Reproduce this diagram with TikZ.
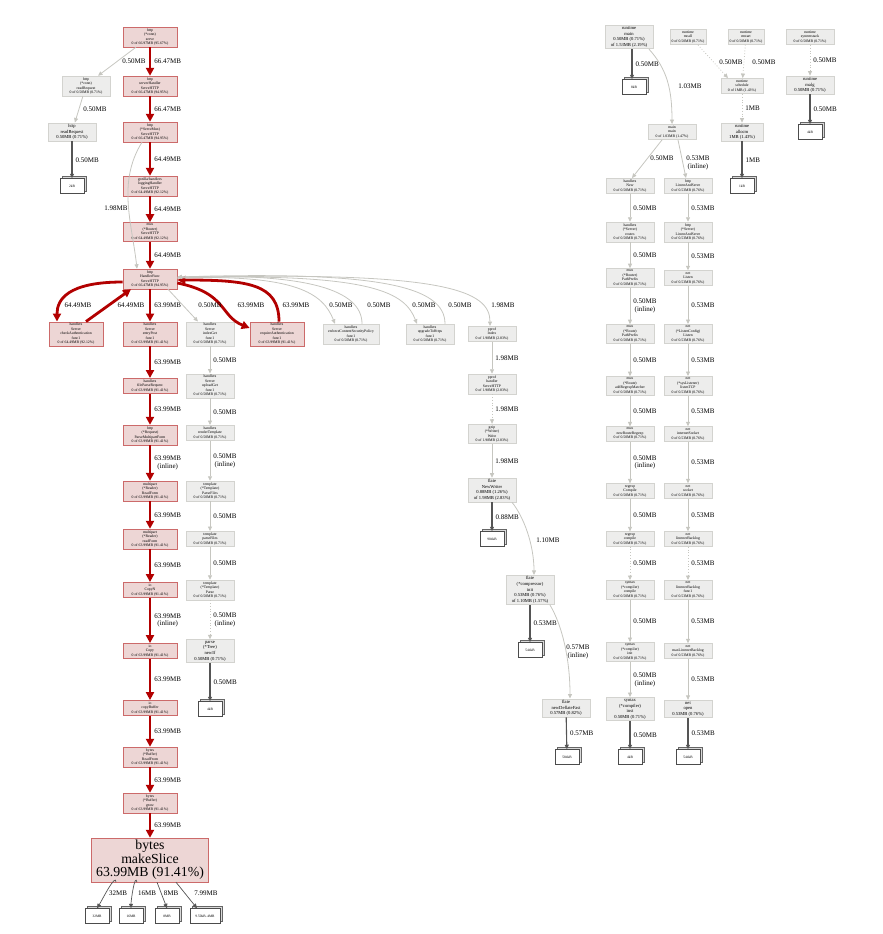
\documentclass[tikz,border=0pt]{standalone}
\usepackage{fontspec}
\setmainfont{Liberation Serif}
\usetikzlibrary{arrows.meta, positioning, shadows}
\definecolor{hot-fill}{HTML}{EDD6D5}
\definecolor{hot-border}{HTML}{CC6A6A}
\definecolor{hot-line}{HTML}{B20000}
\definecolor{cold-fill}{HTML}{EDEDEC}
\definecolor{cold-border}{HTML}{D3D3CF}
\definecolor{cold-line}{HTML}{C6C6C0}
\definecolor{leaf-line}{HTML}{555555}
\tikzset{
  fn/.style={
    rectangle, align=center, inner sep=1.4pt, line width=0.7pt,
    font=\fontsize{3.8}{4.5}\selectfont
  },
  hot/.style={fn, fill=hot-fill, draw=hot-border, minimum width=54pt},
  cold/.style={fn, fill=cold-fill, draw=cold-border, minimum width=48pt},
  hasflat/.style={font=\fontsize{4.6}{5.6}\selectfont},
  leafbox/.style={
    draw=black!70, fill=white, line width=0.5pt, minimum width=24pt,
    minimum height=15pt, inner sep=1pt, font=\fontsize{3.5}{4}\selectfont,
    general shadow={shadow xshift=2.4pt, shadow yshift=2.4pt,
                    fill=black!15, draw=black!60, line width=0.5pt}
  },
  lbl/.style={font=\fontsize{7}{7.8}\selectfont, align=center, inner sep=1pt},
  hot-edge/.style={-{Triangle[length=8pt, width=8pt]}, line width=2.8pt, draw=hot-line},
  cold-edge/.style={-{Triangle[length=4.5pt, width=4pt]}, line width=0.8pt, draw=cold-line},
  leaf-edge/.style={-{Triangle[length=4.5pt, width=4pt]}, line width=1.1pt, draw=leaf-line}
}
\begin{document}
\begin{tikzpicture}[x=1pt, y=-1pt]
  \useasboundingbox (0,0) rectangle (883,934);

  % ---- Request path (hot) --------------------------------------------------
  \node[hot] (serve)      at (150, 37) {http\\(*conn)\\serve\\0 of 66.97MB (95.67\%)};
  \node[hot] (srvhandler) at (150, 86) {http\\serverHandler\\ServeHTTP\\0 of 66.47MB (94.95\%)};
  \node[hot] (servemux)   at (150,132) {http\\(*ServeMux)\\ServeHTTP\\0 of 66.47MB (94.95\%)};
  \node[hot] (logging)    at (150,186) {gorilla/handlers\\loggingHandler\\ServeHTTP\\0 of 64.49MB (92.12\%)};
  \node[hot] (router)     at (150,232) {mux\\(*Router)\\ServeHTTP\\0 of 64.49MB (92.12\%)};
  \node[hot] (hfunc)      at (150,279) {http\\HandlerFunc\\ServeHTTP\\0 of 66.47MB (94.95\%)};

  \node[hot]  (checkauth)   at ( 76,334) {handlers\\Server\\checkAuthentication\\func1\\0 of 64.49MB (92.12\%)};
  \node[hot]  (entrypost)   at (150,334) {handlers\\Server\\entryPost\\func1\\0 of 63.99MB (91.41\%)};
  \node[cold] (indexget)    at (210,334) {handlers\\Server\\indexGet\\func1\\0 of 0.50MB (0.71\%)};
  \node[hot]  (requireauth) at (277,334) {handlers\\Server\\requireAuthentication\\func1\\0 of 63.99MB (91.41\%)};
  \node[cold, minimum width=56pt] (enforcecsp) at (351,334) {handlers\\enforceContentSecurityPolicy\\func1\\0 of 0.50MB (0.71\%)};
  \node[cold] (upgrade)     at (430,334) {handlers\\upgradeToHttps\\func1\\0 of 0.50MB (0.71\%)};

  \node[hot] (fpost)         at (150,386) {handlers\\fileParseRequest\\0 of 63.99MB (91.41\%)};
  \node[hot] (multipartform) at (150,435) {http\\(*Request)\\ParseMultipartForm\\0 of 63.99MB (91.41\%)};
  \node[hot] (readform)      at (150,491) {multipart\\(*Reader)\\ReadForm\\0 of 63.99MB (91.41\%)};
  \node[hot] (readformlow)   at (150,539) {multipart\\(*Reader)\\readForm\\0 of 63.99MB (91.41\%)};
  \node[hot] (copyn)         at (150,590) {io\\CopyN\\0 of 63.99MB (91.41\%)};
  \node[hot] (iocopy)        at (150,651) {io\\Copy\\0 of 63.99MB (91.41\%)};
  \node[hot] (copybuf)       at (150,708) {io\\copyBuffer\\0 of 63.99MB (91.41\%)};
  \node[hot] (bufread)       at (150,757) {bytes\\(*Buffer)\\ReadFrom\\0 of 63.99MB (91.41\%)};
  \node[hot] (bufgrow)       at (150,803) {bytes\\(*Buffer)\\grow\\0 of 63.99MB (91.41\%)};
  \node[hot, minimum width=117pt, minimum height=43pt, inner sep=2pt,
        font=\fontsize{13.8}{13.6}\selectfont] (makeslice) at (150,860)
        {bytes\\makeSlice\\63.99MB (91.41\%)};

  \node[leafbox] (leaf32)   at ( 97,916) {32MB};
  \node[leafbox] (leaf16)   at (131,916) {16MB};
  \node[leafbox] (leaf8)    at (167,916) {8MB};
  \node[leafbox, minimum width=30pt] (leafrest) at (205,916) {9.50kB..4MB};

  % ---- Template rendering (cold) -------------------------------------------
  \node[cold] (uploadget)     at (210,386) {handlers\\Server\\uploadGet\\func1\\0 of 0.50MB (0.71\%)};
  \node[cold] (render)        at (210,433) {handlers\\renderTemplate\\0 of 0.50MB (0.71\%)};
  \node[cold] (parsefiles)    at (210,491) {template\\(*Template)\\ParseFiles\\0 of 0.50MB (0.71\%)};
  \node[cold] (parsefileslow) at (210,539) {template\\parseFiles\\0 of 0.50MB (0.71\%)};
  \node[cold] (tmplparse)     at (210,590) {template\\(*Template)\\Parse\\0 of 0.50MB (0.71\%)};
  \node[cold, hasflat] (newif) at (210,651) {parse\\(*Tree)\\newIf\\0.50MB (0.71\%)};
  \node[leafbox] (leafif)     at (210,709) {4kB};

  % ---- Connection reading ---------------------------------------------------
  \node[cold] (connread) at (86,86)  {http\\(*conn)\\readRequest\\0 of 0.50MB (0.71\%)};
  \node[cold, hasflat] (httpread) at (72,132) {http\\readRequest\\0.50MB (0.71\%)};
  \node[leafbox] (leafread) at (72,186) {2kB};

  % ---- pprof / flate --------------------------------------------------------
  \node[cold] (pindex)      at (492,334) {pprof\\Index\\0 of 1.98MB (2.83\%)};
  \node[cold] (phandler)    at (492,384) {pprof\\handler\\ServeHTTP\\0 of 1.98MB (2.83\%)};
  \node[cold] (gzipwrite)   at (492,434) {gzip\\(*Writer)\\Write\\0 of 1.98MB (2.83\%)};
  \node[cold, hasflat] (newwriter) at (492,490) {flate\\NewWriter\\0.88MB (1.26\%)\\of 1.98MB (2.83\%)};
  \node[leafbox] (leafnw)   at (492,539) {904kB};
  \node[cold, hasflat] (finit) at (530,590) {flate\\(*compressor)\\init\\0.53MB (0.76\%)\\of 1.10MB (1.57\%)};
  \node[leafbox] (leafinit) at (530,650) {544kB};
  \node[cold, hasflat] (deflatefast) at (566,708) {flate\\newDeflateFast\\0.57MB (0.82\%)};
  \node[leafbox] (leafdf)   at (567,757) {584kB};

  % ---- Runtime --------------------------------------------------------------
  \node[cold, hasflat] (rtmain) at (629,37) {runtime\\main\\0.50MB (0.71\%)\\of 1.53MB (2.19\%)};
  \node[leafbox] (leafmain)     at (634,87) {8kB};
  \node[cold, minimum width=36pt] (mcall)  at (688,37) {runtime\\mcall\\0 of 0.50MB (0.71\%)};
  \node[cold, minimum width=36pt] (mstart) at (746,37) {runtime\\mstart\\0 of 0.50MB (0.71\%)};
  \node[cold] (systemstack) at (810,37) {runtime\\systemstack\\0 of 0.50MB (0.71\%)};
  \node[cold, minimum width=42pt] (schedule) at (742,86) {runtime\\schedule\\0 of 1MB (1.43\%)};
  \node[cold, hasflat, minimum width=42pt] (allocm) at (742,132) {runtime\\allocm\\1MB (1.43\%)};
  \node[leafbox] (leafallocm)   at (742,186) {1kB};
  \node[cold, hasflat] (malg)   at (810,85) {runtime\\malg\\0.50MB (0.71\%)};
  \node[leafbox] (leafmalg)     at (810,132) {4kB};
  \node[cold] (mainmain)        at (672,132) {main\\main\\0 of 1.03MB (1.47\%)};

  % ---- Route setup ----------------------------------------------------------
  \node[cold] (hnew)            at (630,186) {handlers\\New\\0 of 0.50MB (0.71\%)};
  \node[cold] (routes)          at (630,232) {handlers\\(*Server)\\routes\\0 of 0.50MB (0.71\%)};
  \node[cold] (rpathprefix)     at (630,278) {mux\\(*Router)\\PathPrefix\\0 of 0.50MB (0.71\%)};
  \node[cold] (routepathprefix) at (630,334) {mux\\(*Route)\\PathPrefix\\0 of 0.50MB (0.71\%)};
  \node[cold] (addregexp)       at (630,386) {mux\\(*Route)\\addRegexpMatcher\\0 of 0.50MB (0.71\%)};
  \node[cold] (newregexp)       at (630,434) {mux\\newRouteRegexp\\0 of 0.50MB (0.71\%)};
  \node[cold] (recompile)       at (630,491) {regexp\\Compile\\0 of 0.50MB (0.71\%)};
  \node[cold] (recompilelow)    at (630,539) {regexp\\compile\\0 of 0.50MB (0.71\%)};
  \node[cold] (syncompile)      at (630,590) {syntax\\(*compiler)\\compile\\0 of 0.50MB (0.71\%)};
  \node[cold] (syninit)         at (630,652) {syntax\\(*compiler)\\init\\0 of 0.50MB (0.71\%)};
  \node[cold, hasflat] (syninst) at (630,709) {syntax\\(*compiler)\\inst\\0.50MB (0.71\%)};
  \node[leafbox] (leafinst)     at (630,757) {4kB};

  % ---- Listener setup -------------------------------------------------------
  \node[cold] (listen)     at (688,186) {http\\ListenAndServe\\0 of 0.53MB (0.76\%)};
  \node[cold] (srvlisten)  at (688,232) {http\\(*Server)\\ListenAndServe\\0 of 0.53MB (0.76\%)};
  \node[cold] (netlisten)  at (688,278) {net\\Listen\\0 of 0.53MB (0.76\%)};
  \node[cold] (lclisten)   at (688,334) {net\\(*ListenConfig)\\Listen\\0 of 0.53MB (0.76\%)};
  \node[cold] (listentcp)  at (688,386) {net\\(*sysListener)\\listenTCP\\0 of 0.53MB (0.76\%)};
  \node[cold] (inetsock)   at (688,434) {net\\internetSocket\\0 of 0.53MB (0.76\%)};
  \node[cold] (socket)     at (688,491) {net\\socket\\0 of 0.53MB (0.76\%)};
  \node[cold] (backlog)    at (688,539) {net\\listenerBacklog\\0 of 0.53MB (0.76\%)};
  \node[cold] (backlogf)   at (688,590) {net\\listenerBacklog\\func1\\0 of 0.53MB (0.76\%)};
  \node[cold] (maxbacklog) at (688,651) {net\\maxListenerBacklog\\0 of 0.53MB (0.76\%)};
  \node[cold, hasflat] (netopen) at (688,709) {net\\open\\0.53MB (0.76\%)};
  \node[leafbox] (leafopen) at (688,757) {544kB};

  % ---- Hot edges ------------------------------------------------------------
  \draw[hot-edge] (serve) -- (srvhandler) node[lbl, midway, right=2pt] {66.47MB};
  \draw[hot-edge] (srvhandler) -- (servemux) node[lbl, midway, right=2pt] {66.47MB};
  \draw[hot-edge] (servemux) -- (logging) node[lbl, midway, right=2pt] {64.49MB};
  \draw[hot-edge] (logging) -- (router) node[lbl, midway, right=2pt] {64.49MB};
  \draw[hot-edge] (router) -- (hfunc) node[lbl, midway, right=2pt] {64.49MB};
  \draw[hot-edge] ([yshift=-3pt]hfunc.west) .. controls +(-55,0) and +(0,-22) .. ([xshift=-19pt]checkauth.north)
        node[lbl, at={(78,305)}] {64.49MB};
  \draw[hot-edge] ([xshift=10pt]checkauth.north) -- ([xshift=-19pt]hfunc.south)
        node[lbl, at={(131,305)}] {64.49MB};
  \draw[hot-edge] (hfunc) -- (entrypost) node[lbl, midway, right=2pt] {63.99MB};
  \draw[hot-edge] ([yshift=-4pt]hfunc.east) .. controls +(50,10) and +(-30,-12) .. ([yshift=6pt]requireauth.west)
        node[lbl, at={(251,305)}] {63.99MB};
  \draw[hot-edge] ([xshift=2pt]requireauth.north) .. controls +(0,-38) and +(70,0) .. ([yshift=-1pt]hfunc.east)
        node[lbl, at={(296,305)}] {63.99MB};
  \draw[hot-edge] (entrypost) -- (fpost) node[lbl, midway, right=2pt] {63.99MB};
  \draw[hot-edge] (fpost) -- (multipartform) node[lbl, midway, right=2pt] {63.99MB};
  \draw[hot-edge] (multipartform) -- (readform) node[lbl, midway, right=2pt] {63.99MB\\(inline)};
  \draw[hot-edge] (readform) -- (readformlow) node[lbl, midway, right=2pt] {63.99MB};
  \draw[hot-edge] (readformlow) -- (copyn) node[lbl, midway, right=2pt] {63.99MB};
  \draw[hot-edge] (copyn) -- (iocopy) node[lbl, midway, right=2pt] {63.99MB\\(inline)};
  \draw[hot-edge] (iocopy) -- (copybuf) node[lbl, midway, right=2pt] {63.99MB};
  \draw[hot-edge] (copybuf) -- (bufread) node[lbl, midway, right=2pt] {63.99MB};
  \draw[hot-edge] (bufread) -- (bufgrow) node[lbl, midway, right=2pt] {63.99MB};
  \draw[hot-edge] (bufgrow) -- (makeslice) node[lbl, midway, right=2pt] {63.99MB};

  % ---- makeSlice sizes ------------------------------------------------------
  \draw[leaf-edge, line width=0.7pt] ([xshift=-34pt]makeslice.south) .. controls +(0,-10) and +(5,-8) .. (leaf32.north)
        node[lbl, at={(118,893)}] {32MB};
  \draw[leaf-edge, line width=0.7pt] ([xshift=-13pt]makeslice.south) .. controls +(-2,-10) and +(0,-8) .. (leaf16.north)
        node[lbl, at={(147,893)}] {16MB};
  \draw[leaf-edge, line width=0.7pt] ([xshift=7pt]makeslice.south) -- (leaf8.north)
        node[lbl, at={(171,893)}] {8MB};
  \draw[leaf-edge, line width=0.7pt] ([xshift=26pt]makeslice.south) -- ([xshift=-8pt]leafrest.north)
        node[lbl, at={(206,893)}] {7.99MB};

  % ---- Cold edges around the handler ----------------------------------------
  \draw[cold-edge] ([xshift=-14pt]serve.south) -- ([xshift=12pt]connread.north)
        node[lbl, at={(134,61)}] {0.50MB};
  \draw[cold-edge] (connread) -- (httpread) node[lbl, midway, right=3pt] {0.50MB};
  \draw[leaf-edge] (httpread) -- (leafread) node[lbl, midway, right=2pt] {0.50MB};
  \draw[cold-edge] ([xshift=-8pt]servemux.south) .. controls +(-25,40) and +(-5,-45) .. ([xshift=-13pt]hfunc.north)
        node[lbl, at={(116,208)}] {1.98MB};
  \draw[cold-edge] ([xshift=18pt]hfunc.south) -- ([xshift=-12pt]indexget.north)
        node[lbl, at={(210,305)}] {0.50MB};
  \draw[cold-edge] ([yshift=1pt]hfunc.east) .. controls +(120,-4) and +(-12,-30) .. ([xshift=-16pt]enforcecsp.north)
        node[lbl, at={(341,305)}] {0.50MB};
  \draw[cold-edge] ([xshift=11pt]enforcecsp.north) .. controls +(0,-34) and +(130,-4) .. ([yshift=2pt]hfunc.east)
        node[lbl, at={(379,305)}] {0.50MB};
  \draw[cold-edge] ([yshift=1pt]hfunc.east) .. controls +(200,-6) and +(-12,-30) .. ([xshift=-13pt]upgrade.north)
        node[lbl, at={(424,305)}] {0.50MB};
  \draw[cold-edge] ([xshift=15pt]upgrade.north) .. controls +(0,-38) and +(200,-6) .. ([yshift=2pt]hfunc.east)
        node[lbl, at={(460,305)}] {0.50MB};
  \draw[cold-edge] ([yshift=1pt]hfunc.east) .. controls +(270,-8) and +(0,-35) .. ([xshift=-2pt]pindex.north)
        node[lbl, at={(503,305)}] {1.98MB};

  % ---- Template chain -------------------------------------------------------
  \draw[cold-edge] (indexget) -- (uploadget) node[lbl, midway, right=2pt] {0.50MB};
  \draw[cold-edge] (uploadget) -- (render) node[lbl, midway, right=2pt] {0.50MB};
  \draw[cold-edge] (render) -- (parsefiles) node[lbl, midway, right=2pt] {0.50MB\\(inline)};
  \draw[cold-edge] (parsefiles) -- (parsefileslow) node[lbl, midway, right=2pt] {0.50MB};
  \draw[cold-edge] (parsefileslow) -- (tmplparse) node[lbl, midway, right=2pt] {0.50MB};
  \draw[cold-edge, dotted] (tmplparse) -- (newif) node[lbl, midway, right=2pt] {0.50MB\\(inline)};
  \draw[leaf-edge] (newif) -- (leafif) node[lbl, midway, right=2pt] {0.50MB};

  % ---- pprof chain ----------------------------------------------------------
  \draw[cold-edge] (pindex) -- (phandler) node[lbl, midway, right=2pt] {1.98MB};
  \draw[cold-edge, dotted] (phandler) -- (gzipwrite) node[lbl, midway, right=2pt] {1.98MB};
  \draw[cold-edge] (gzipwrite) -- (newwriter) node[lbl, midway, right=2pt] {1.98MB};
  \draw[leaf-edge] (newwriter) -- (leafnw) node[lbl, midway, right=2pt] {0.88MB};
  \draw[cold-edge] ([xshift=20pt]newwriter.south) .. controls +(12,15) and +(0,-30) .. ([xshift=4pt]finit.north)
        node[lbl, at={(548,540)}] {1.10MB};
  \draw[leaf-edge] (finit) -- (leafinit) node[lbl, midway, right=2pt] {0.53MB};
  \draw[cold-edge] ([xshift=20pt]finit.south) .. controls +(12,20) and +(0,-40) .. ([xshift=4pt]deflatefast.north)
        node[lbl, at={(578,652)}] {0.57MB\\(inline)};
  \draw[leaf-edge] (deflatefast) -- (leafdf) node[lbl, midway, right=2pt] {0.57MB};

  % ---- Runtime edges --------------------------------------------------------
  \draw[leaf-edge] ([xshift=3pt]rtmain.south) -- ([xshift=-2pt]leafmain.north)
        node[lbl, midway, right=2pt] {0.50MB};
  \draw[cold-edge] ([xshift=20pt]rtmain.south) .. controls +(18,20) and +(0,-35) .. ([xshift=0pt]mainmain.north)
        node[lbl, at={(690,86)}] {1.03MB};
  \draw[cold-edge, dotted] ([xshift=10pt]mcall.south) -- ([xshift=-14pt]schedule.north)
        node[lbl, at={(731,62)}] {0.50MB};
  \draw[cold-edge, dotted] (mstart) -- (schedule) node[lbl, at={(764,62)}] {0.50MB};
  \draw[cold-edge, dotted] (schedule) -- (allocm) node[lbl, midway, right=2pt] {1MB};
  \draw[leaf-edge] (allocm) -- (leafallocm) node[lbl, midway, right=2pt] {1MB};
  \draw[cold-edge, dotted] (systemstack) -- (malg) node[lbl, midway, right=2pt] {0.50MB};
  \draw[leaf-edge] (malg) -- (leafmalg) node[lbl, midway, right=2pt] {0.50MB};
  \draw[cold-edge] ([xshift=-10pt]mainmain.south) -- ([xshift=2pt]hnew.north)
        node[lbl, at={(662,158)}] {0.50MB};
  \draw[cold-edge] ([xshift=6pt]mainmain.south) -- ([xshift=-2pt]listen.north)
        node[lbl, at={(698,163)}] {0.53MB\\(inline)};

  % ---- Route setup chain ----------------------------------------------------
  \draw[cold-edge] (hnew) -- (routes) node[lbl, midway, right=2pt] {0.50MB};
  \draw[cold-edge] (routes) -- (rpathprefix) node[lbl, midway, right=2pt] {0.50MB};
  \draw[cold-edge] (rpathprefix) -- (routepathprefix) node[lbl, midway, right=2pt] {0.50MB\\(inline)};
  \draw[cold-edge] (routepathprefix) -- (addregexp) node[lbl, midway, right=2pt] {0.50MB};
  \draw[cold-edge] (addregexp) -- (newregexp) node[lbl, midway, right=2pt] {0.50MB};
  \draw[cold-edge] (newregexp) -- (recompile) node[lbl, midway, right=2pt] {0.50MB\\(inline)};
  \draw[cold-edge] (recompile) -- (recompilelow) node[lbl, midway, right=2pt] {0.50MB};
  \draw[cold-edge, dotted] (recompilelow) -- (syncompile) node[lbl, midway, right=2pt] {0.50MB};
  \draw[cold-edge] (syncompile) -- (syninit) node[lbl, midway, right=2pt] {0.50MB};
  \draw[cold-edge] (syninit) -- (syninst) node[lbl, midway, right=2pt] {0.50MB\\(inline)};
  \draw[leaf-edge] (syninst) -- (leafinst) node[lbl, midway, right=2pt] {0.50MB};

  % ---- Listener chain -------------------------------------------------------
  \draw[cold-edge] (listen) -- (srvlisten) node[lbl, midway, right=2pt] {0.53MB};
  \draw[cold-edge] (srvlisten) -- (netlisten) node[lbl, midway, right=2pt] {0.53MB};
  \draw[cold-edge] (netlisten) -- (lclisten) node[lbl, midway, right=2pt] {0.53MB};
  \draw[cold-edge] (lclisten) -- (listentcp) node[lbl, midway, right=2pt] {0.53MB};
  \draw[cold-edge] (listentcp) -- (inetsock) node[lbl, midway, right=2pt] {0.53MB};
  \draw[cold-edge] (inetsock) -- (socket) node[lbl, midway, right=2pt] {0.53MB};
  \draw[cold-edge] (socket) -- (backlog) node[lbl, midway, right=2pt] {0.53MB};
  \draw[cold-edge, dotted] (backlog) -- (backlogf) node[lbl, midway, right=2pt] {0.53MB};
  \draw[cold-edge] (backlogf) -- (maxbacklog) node[lbl, midway, right=2pt] {0.53MB};
  \draw[cold-edge] (maxbacklog) -- (netopen) node[lbl, midway, right=2pt] {0.53MB};
  \draw[leaf-edge] (netopen) -- (leafopen) node[lbl, midway, right=2pt] {0.53MB};

\end{tikzpicture}
\end{document}
